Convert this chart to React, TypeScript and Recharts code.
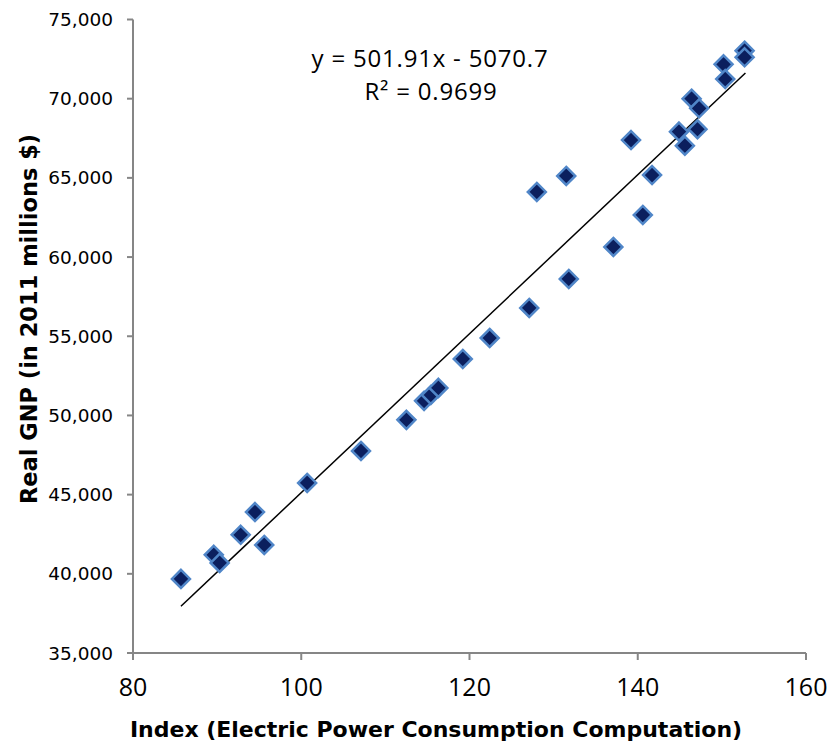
import { ScatterChart, Scatter, XAxis, YAxis } from "recharts"

const indexValues = [
  85.7, 89.6, 90.3, 92.8, 94.5, 95.6, 100.7, 107.1, 112.5, 114.6, 115.4,
  116.3, 119.2, 122.4, 127.1, 128.0, 131.5, 131.8, 137.1, 139.2, 140.6,
  141.7, 144.9, 145.6, 147.1, 146.4, 147.3, 150.2, 150.4, 152.7, 152.7,
]
const gnpValues = [
  39680, 41200, 40690, 42460, 43900, 41820, 45740, 47760, 49720, 50920,
  51290, 51740, 53570, 54890, 56790, 64110, 65120, 58620, 60640, 67390,
  62660, 65180, 67920, 67030, 68070, 70000, 69390, 72170, 71240, 73030,
  72610,
]
const trendX = [85.7, 152.8]
const trendY = [37950, 71620]

const xTicks = [80, 100, 120, 140, 160]
const yTicks = [35000, 40000, 45000, 50000, 55000, 60000, 65000, 70000, 75000]

const points = indexValues.map((x, i) => ({ x, y: gnpValues[i] }))
const trend = trendX.map((x, i) => ({ x, y: trendY[i] }))

const axisGrey = "#868686"

function Diamond(props: any) {
  const { cx, cy } = props
  if (cx == null || cy == null) return null
  const r = 9
  return (
    <polygon
      points={`${cx},${cy - r} ${cx + r},${cy} ${cx},${cy + r} ${cx - r},${cy}`}
      fill="#0b1f5e"
      stroke="#5086c8"
      strokeWidth={2.5}
    />
  )
}

export default function App() {
  return (
    <div style={{ position: "absolute", left: 0, top: 0, background: "#fff" }}>
      <ScatterChart
        width={829}
        height={745}
        margin={{ top: 19.5, right: 23, bottom: 0, left: 0 }}
      >
        <XAxis
          type="number"
          dataKey="x"
          domain={[80, 160]}
          ticks={xTicks}
          allowDataOverflow
          height={92}
          tickSize={7}
          tickMargin={18}
          stroke={axisGrey}
          strokeWidth={2}
          tick={{ fill: "#000", fontSize: 25, fontFamily: "Open Sans" }}
        />
        <YAxis
          type="number"
          dataKey="y"
          domain={[35000, 75000]}
          ticks={yTicks}
          allowDataOverflow
          width={133}
          tickSize={6}
          tickMargin={14}
          stroke={axisGrey}
          strokeWidth={2}
          tickFormatter={(v: number) => v.toLocaleString("en-US")}
          tick={{ fill: "#000", fontSize: 18.5, fontFamily: "DejaVu Sans" }}
        />
        <Scatter
          data={trend}
          line={{ stroke: "#000", strokeWidth: 1.5 }}
          shape={() => null}
          isAnimationActive={false}
        />
        <Scatter data={points} shape={Diamond} isAnimationActive={false} />
        <text
          x={430}
          y={67}
          textAnchor="middle"
          fontFamily="Open Sans"
          fontSize={24}
          letterSpacing={0.8}
          fill="#000"
        >
          y = 501.91x - 5070.7
        </text>
        <text
          x={431}
          y={100}
          textAnchor="middle"
          fontFamily="Open Sans"
          fontSize={24}
          letterSpacing={0.8}
          fill="#000"
        >
          R² = 0.9699
        </text>
        <text
          x={436}
          y={737}
          textAnchor="middle"
          fontFamily="DejaVu Sans"
          fontWeight="bold"
          fontSize={22}
          fill="#000"
        >
          Index (Electric Power Consumption Computation)
        </text>
        <text
          x={37}
          y={319}
          transform="rotate(-90 37 319)"
          textAnchor="middle"
          fontFamily="DejaVu Sans"
          fontWeight="bold"
          fontSize={22.5}
          fill="#000"
        >
          Real GNP (in 2011 millions $)
        </text>
      </ScatterChart>
    </div>
  )
}
